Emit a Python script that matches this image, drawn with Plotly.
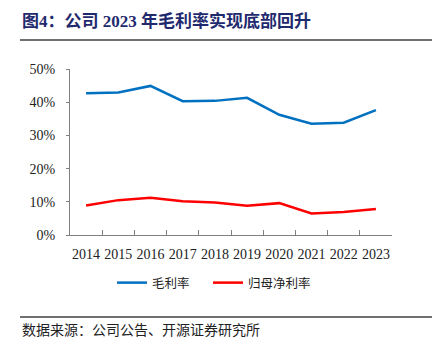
import plotly.graph_objects as go

years = ["2014", "2015", "2016", "2017", "2018", "2019", "2020", "2021", "2022", "2023"]
gross_margin = [0.427, 0.429, 0.449, 0.403, 0.404, 0.413, 0.362, 0.335, 0.338, 0.376]
net_margin = [0.089, 0.105, 0.112, 0.102, 0.098, 0.088, 0.096, 0.065, 0.069, 0.078]

title_text = "图4：公司 2023 年毛利率实现底部回升"
source_text = "数据来源：公司公告、开源证券研究所"

W, H = 432, 355
ml, mr, mt, mb = 70, 40, 69, 120
pw, ph = W - ml - mr, H - mt - mb

def px(x):
    return (x - ml) / pw

def py(y):
    return (H - mb - y) / ph

cjk = "Noto Sans CJK SC"
serif = "Liberation Serif, Times New Roman, serif"

fig = go.Figure()
fig.add_trace(go.Scatter(x=years, y=gross_margin, mode="lines", name="毛利率",
                         line=dict(color="#0070C0", width=2.5), legend="legend"))
fig.add_trace(go.Scatter(x=years, y=net_margin, mode="lines", name="归母净利率",
                         line=dict(color="#FF0000", width=2.5), legend="legend2"))

leg_common = dict(orientation="h", xanchor="left", y=py(283), yanchor="middle",
                  font=dict(family=cjk, size=12.5, color="#222222"), itemwidth=30,
                  bgcolor="rgba(0,0,0,0)")

fig.update_layout(
    width=W, height=H,
    margin=dict(l=ml, r=mr, t=mt, b=mb, pad=0),
    plot_bgcolor="white", paper_bgcolor="white",
    showlegend=True,
    legend=dict(x=px(112), **leg_common),
    legend2=dict(x=px(208), **leg_common),
    xaxis=dict(type="category", showgrid=False, showline=True, linecolor="#808080", linewidth=1.2,
               ticks="inside", ticklen=5, tickcolor="#808080", tickson="boundaries",
               tickangle=0, ticklabelstandoff=6,
               tickfont=dict(family=serif, size=14, color="#222222"), range=[-0.5, 9.5]),
    yaxis=dict(range=[0, 0.5], dtick=0.1, tickformat=".0%", showgrid=False, showline=True,
               linecolor="#808080", linewidth=1.2, ticks="outside", ticklen=3, tickcolor="#808080",
               ticklabelstandoff=8,
               tickfont=dict(family=serif, size=14, color="#222222"), zeroline=False),
    shapes=[
        dict(type="line", xref="paper", yref="paper", x0=px(20), x1=px(432), y0=py(40), y1=py(40),
             line=dict(color="#404040", width=1.5)),
        dict(type="line", xref="paper", yref="paper", x0=px(20), x1=px(432), y0=py(317), y1=py(317),
             line=dict(color="#404040", width=1.5)),
    ],
    annotations=[
        dict(text="<b>" + title_text + "</b>", xref="paper", yref="paper", x=px(20), y=py(21),
             xanchor="left", yanchor="middle", showarrow=False,
             font=dict(family="Liberation Serif, " + cjk, size=17, color="#1F2A6E")),
        dict(text=source_text, xref="paper", yref="paper", x=px(20), y=py(329),
             xanchor="left", yanchor="middle", showarrow=False,
             font=dict(family=cjk, size=14, color="#222222")),
    ],
)

fig.write_html("out.html", config={"displayModeBar": False},
               post_script="document.body.style.margin='0';document.body.style.overflow='hidden';")
